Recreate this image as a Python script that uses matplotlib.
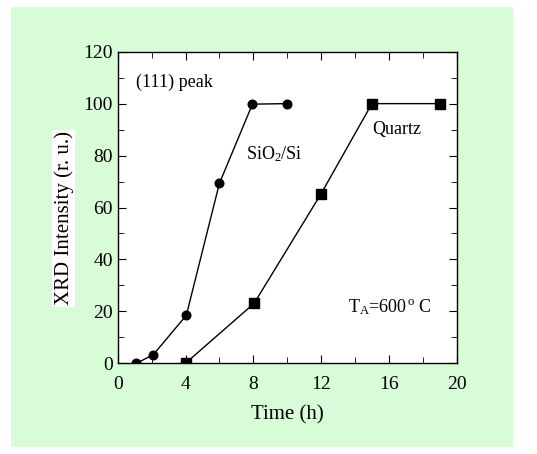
import matplotlib
matplotlib.use("Agg")
import matplotlib.pyplot as plt
from matplotlib.ticker import MultipleLocator

plt.rcParams['font.family'] = ['Liberation Serif', 'DejaVu Serif']
plt.rcParams['mathtext.fontset'] = 'custom'
plt.rcParams['mathtext.rm'] = 'Liberation Serif'
plt.rcParams['mathtext.it'] = 'Liberation Serif:italic'

# SiO2/Si substrate
sio2_time = [1.1, 2.1, 4.05, 6.0, 7.95, 10.0]
sio2_int = [0, 3.3, 18.5, 69.3, 99.8, 100]

# Quartz substrate
quartz_time = [4.0, 8.05, 12.0, 15.0, 19.0]
quartz_int = [0, 23.1, 65.3, 100, 100]

bg = '#d7fcd7'
fig = plt.figure(figsize=(5.37, 4.54), dpi=100)
# green panel inside white frame
fig.patches.append(plt.Rectangle((11 / 537, 1 - 447 / 454), 502 / 537, 440 / 454,
                                 transform=fig.transFigure, facecolor=bg,
                                 edgecolor='none', zorder=-1))
ax = fig.add_axes([117.7 / 537, 1 - 363.3 / 454, 339 / 537, 311.6 / 454])

ax.plot(sio2_time, sio2_int, '-o', color='black', lw=1, ms=6.2)
ax.plot(quartz_time, quartz_int, '-s', color='black', lw=1, ms=7)

ax.set_xlim(0, 20)
ax.set_ylim(0, 120)
ax.xaxis.set_major_locator(MultipleLocator(4))
ax.xaxis.set_minor_locator(MultipleLocator(2))
ax.yaxis.set_major_locator(MultipleLocator(20))
ax.yaxis.set_minor_locator(MultipleLocator(10))
ax.tick_params(which='both', direction='in', top=True, right=True, labelsize=14)
ax.tick_params(axis='x', which='major', pad=9)
ax.tick_params(which='major', length=6)
ax.tick_params(which='minor', length=4)
for s in ax.spines.values():
    s.set_linewidth(1)

ax.set_xlabel('Time (h)', fontsize=15, labelpad=9)
ax.set_ylabel('XRD Intensity (r. u.)', fontsize=15,
              bbox=dict(facecolor='white', edgecolor='none', pad=1))
ax.yaxis.set_label_coords(-0.13, 0.465)

ax.text(1.1, 108.3, '(111) peak', fontsize=13, va='center')
ax.text(7.55, 80.6, 'SiO$_2$/Si', fontsize=13, va='center')
ax.text(15.0, 90, 'Quartz', fontsize=13, va='center')
ax.text(13.6, 21.8, 'T$_\\mathrm{A}$=600$^{\\,\\mathrm{o}}$ C', fontsize=13, va='center')

fig.savefig('out.png', dpi=100)
